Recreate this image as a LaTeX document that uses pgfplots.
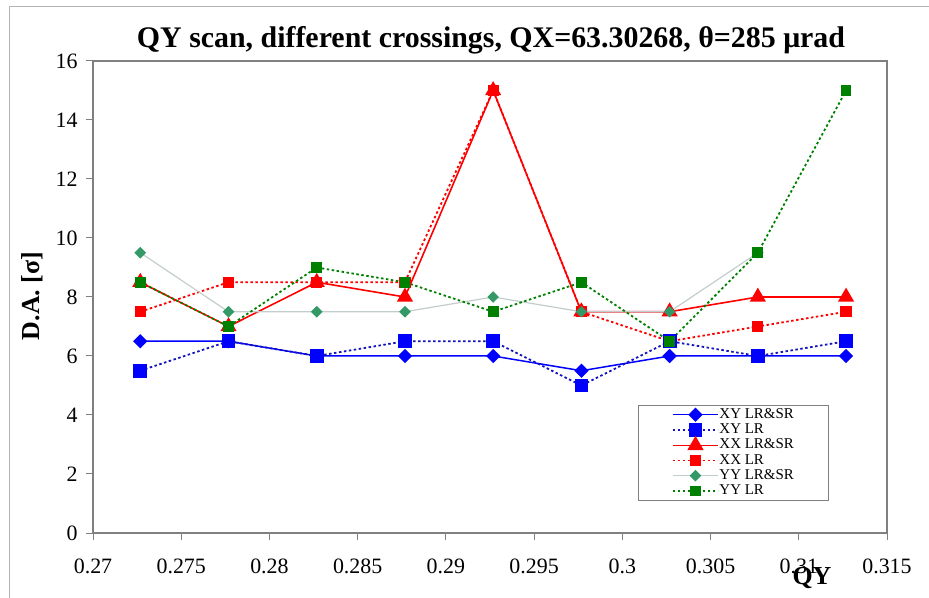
\documentclass[border=0pt]{standalone}
\usepackage{pgfplots}
\pgfplotsset{compat=1.18}
\usepackage{fontspec}
\setmainfont{Liberation Serif}

\definecolor{xyblue}{RGB}{0,0,255}
\definecolor{xydot}{RGB}{20,20,190}
\definecolor{xxred}{RGB}{255,0,0}
\definecolor{yyteal}{RGB}{51,153,102}
\definecolor{yyline}{RGB}{195,205,205}
\definecolor{yygreen}{RGB}{0,128,0}
\definecolor{framegray}{RGB}{128,128,128}

\begin{document}
\begin{tikzpicture}
\useasboundingbox (0bp,0bp) rectangle (929bp,598bp);
% outer chart frame
\draw[framegray!60, line width=1bp] (9bp,0bp) -- (9bp,591bp) -- (929bp,591bp);

\begin{axis}[
  at={(93bp,65bp)}, anchor=south west,
  width=794bp, height=472bp, scale only axis,
  xmin=0.27, xmax=0.315, ymin=0, ymax=16,
  xtick={0.27,0.275,...,0.3151},
  ytick={0,2,...,16},
  xticklabels={0.27,0.275,0.28,0.285,0.29,0.295,0.3,0.305,0.31,0.315},
  /pgf/number format/assume math mode=true,
  tick label style={font=\fontsize{22}{24}\selectfont},
  xticklabel style={yshift=-15bp},
  yticklabel style={xshift=-5bp},
  tick align=outside, major tick length=7bp,
  xtick pos=bottom, ytick pos=left,
  axis line style={framegray, line width=1.2bp},
  every tick/.style={framegray, line width=1bp},
  legend style={
    at={(0.686,0.068)}, anchor=south west,
    draw=framegray, line width=0.8bp, fill=white,
    font=\fontsize{15}{15}\selectfont,
    inner xsep=34bp, inner ysep=2bp,
    row sep=0pt,
    nodes={inner sep=0.6bp, text height=10.5bp, text depth=3.5bp},
  },
  legend cell align=left,
  legend image code/.code={
    \draw[mark repeat=2,mark phase=2,#1]
      plot coordinates {(0bp,0bp) (22.5bp,0bp) (45bp,0bp)};
  },
]

% XY crossing, long range and short range
\addplot[xyblue, line width=1.5bp, mark=square*, mark size=4.3bp,
  mark options={solid, rotate=45, fill=xyblue, draw=xyblue}]
  coordinates {(0.27268,6.5) (0.27768,6.5) (0.28268,6) (0.28768,6) (0.29268,6)
               (0.29768,5.5) (0.30268,6) (0.30768,6) (0.31268,6)};
\addlegendentry{XY LR\&SR}

% XY crossing, long range only
\addplot[xydot, line width=1.8bp, dash pattern=on 2.5bp off 2.5bp,
  mark=square*, mark size=6bp, mark options={solid, fill=xyblue, draw=xyblue}]
  coordinates {(0.27268,5.5) (0.27768,6.5) (0.28268,6) (0.28768,6.5) (0.29268,6.5)
               (0.29768,5) (0.30268,6.5) (0.30768,6) (0.31268,6.5)};
\addlegendentry{XY LR}

% XX crossing, long range and short range
\addplot[xxred, line width=1.6bp, mark=triangle*, mark size=7.8bp,
  mark options={solid, fill=xxred, draw=xxred}]
  coordinates {(0.27268,8.5) (0.27768,7) (0.28268,8.5) (0.28768,8) (0.29268,15)
               (0.29768,7.5) (0.30268,7.5) (0.30768,8) (0.31268,8)};
\addlegendentry{XX LR\&SR}

% XX crossing, long range only
\addplot[xxred, line width=1.8bp, dash pattern=on 2.5bp off 2.5bp,
  mark=square*, mark size=4.7bp, mark options={solid, fill=xxred, draw=xxred}]
  coordinates {(0.27268,7.5) (0.27768,8.5) (0.28268,8.5) (0.28768,8.5) (0.29268,15)
               (0.29768,7.5) (0.30268,6.5) (0.30768,7) (0.31268,7.5)};
\addlegendentry{XX LR}

% YY crossing, long range and short range
\addplot[yyline, line width=1.2bp, mark=square*, mark size=3.5bp,
  mark options={solid, rotate=45, fill=yyteal, draw=yyteal}]
  coordinates {(0.27268,9.5) (0.27768,7.5) (0.28268,7.5) (0.28768,7.5) (0.29268,8)
               (0.29768,7.5) (0.30268,7.5) (0.30768,9.5)};
\addlegendentry{YY LR\&SR}

% YY crossing, long range only
\addplot[yygreen, line width=1.8bp, dash pattern=on 2.5bp off 2.5bp,
  mark=square*, mark size=4.5bp, mark options={solid, fill=yygreen, draw=yygreen}]
  coordinates {(0.27268,8.5) (0.27768,7) (0.28268,9) (0.28768,8.5) (0.29268,7.5)
               (0.29768,8.5) (0.30268,6.5) (0.30768,9.5) (0.31268,15)};
\addlegendentry{YY LR}
\end{axis}

\node[font=\bfseries\fontsize{30}{32}\selectfont] at (491bp,558bp)
  {QY scan, different crossings, QX=63.30268, θ=285 μrad};
\node[font=\bfseries\fontsize{26}{28}\selectfont, rotate=90] at (32bp,302bp) {D.A. [σ]};
\node[font=\bfseries\fontsize{26}{28}\selectfont] at (812bp,20bp) {QY};
\end{tikzpicture}
\end{document}
